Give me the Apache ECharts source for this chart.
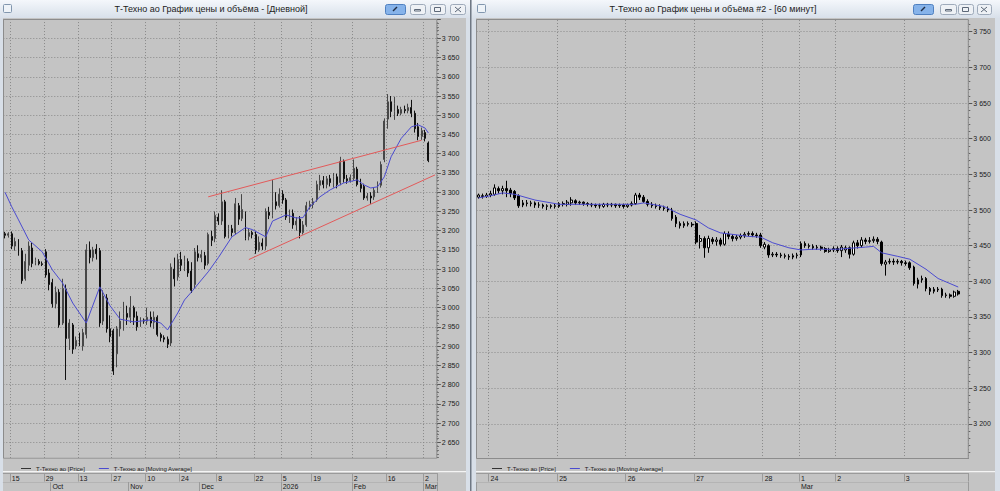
<!DOCTYPE html>
<html><head><meta charset="utf-8">
<script src="https://cdn.jsdelivr.net/npm/echarts@6/dist/echarts.min.js"></script>
<style>html,body{margin:0;padding:0;background:#d8dfe8;overflow:hidden}#c{width:1000px;height:491px}</style>
</head><body><div id="c"></div>
<script>
// ---------- DAILY PANEL ----------
const dailyDates = [
 '2025-09-11','2025-09-12',
 '2025-09-15','2025-09-16','2025-09-17','2025-09-18','2025-09-19','2025-09-22','2025-09-23','2025-09-24','2025-09-25','2025-09-26',
 '2025-09-29','2025-09-30','2025-10-01','2025-10-02','2025-10-03','2025-10-06','2025-10-07','2025-10-08','2025-10-09','2025-10-10',
 '2025-10-13','2025-10-14','2025-10-15','2025-10-16','2025-10-17','2025-10-20','2025-10-21','2025-10-22','2025-10-23','2025-10-24',
 '2025-10-27','2025-10-28','2025-10-29','2025-10-30','2025-10-31','2025-11-03','2025-11-04','2025-11-05','2025-11-06','2025-11-07',
 '2025-11-10','2025-11-11','2025-11-12','2025-11-13','2025-11-14','2025-11-17','2025-11-18','2025-11-19','2025-11-20','2025-11-21',
 '2025-11-24','2025-11-25','2025-11-26','2025-11-27','2025-11-28','2025-11-29','2025-12-01','2025-12-02','2025-12-03','2025-12-04','2025-12-05',
 '2025-12-08','2025-12-09','2025-12-10','2025-12-11','2025-12-12','2025-12-13','2025-12-15','2025-12-16','2025-12-17','2025-12-18','2025-12-19',
 '2025-12-22','2025-12-23','2025-12-24','2025-12-25','2025-12-26','2025-12-27','2025-12-29','2025-12-30',
 '2026-01-05','2026-01-06','2026-01-08','2026-01-09','2026-01-12','2026-01-13','2026-01-14','2026-01-15','2026-01-16',
 '2026-01-19','2026-01-20','2026-01-21','2026-01-22','2026-01-23','2026-01-24','2026-01-26','2026-01-27','2026-01-28','2026-01-29','2026-01-30','2026-01-31',
 '2026-02-02','2026-02-03','2026-02-04','2026-02-05','2026-02-06','2026-02-09','2026-02-10','2026-02-11','2026-02-12','2026-02-13',
 '2026-02-16','2026-02-17','2026-02-18','2026-02-19','2026-02-20','2026-02-21','2026-02-24','2026-02-25','2026-02-26','2026-02-27','2026-02-28',
 '2026-03-02','2026-03-03'
];
const dailyPadSlots = ['2026-03-04','2026-03-05'];
// [open, close, low, high]
const dailyCandles = [
 [3192,3188,3180,3197],[3188,3192,3182,3196],[3192,3160,3152,3198],[3160,3172,3148,3182],[3170,3140,3135,3178],
 [3148,3070,3062,3155],[3075,3120,3070,3140],[3110,3160,3095,3172],[3155,3115,3105,3168],[3118,3122,3110,3130],
 [3120,3114,3110,3126],[3114,3112,3108,3120],[3145,3085,3078,3152],[3090,3060,3045,3100],[3065,3010,3000,3075],
 [3010,3040,2998,3055],[3040,2955,2948,3048],[2960,3050,2955,3075],[3048,2920,2812,3060],[2920,2960,2890,2970],
 [2955,2892,2880,2960],[2900,2915,2892,2925],[2915,2910,2900,2935],[2900,2935,2888,2945],[2930,3150,2920,3165],
 [3150,3130,3115,3172],[3130,3150,3120,3158],[3152,3140,3125,3165],[3148,2960,2950,3155],[2965,3030,2955,3045],
 [3025,2945,2935,3035],[2945,2925,2910,2980],[2940,2835,2825,2945],[2880,2945,2845,2952],[2945,2965,2925,2990],
 [2965,2985,2940,3015],[2985,2975,2955,3005],[2975,3000,2960,3030],[3000,2975,2955,3005],[2978,2950,2940,2990],
 [2955,2968,2950,2975],[2968,2965,2958,2972],[2965,2975,2955,3000],[2975,2960,2950,2990],[2962,2975,2945,2990],
 [2975,2930,2925,2980],[2930,2922,2912,2935],[2922,2918,2910,2928],[2918,2905,2895,2925],[2908,3105,2900,3115],
 [3100,3075,3055,3130],[3080,3125,3070,3140],[3125,3110,3095,3145],[3108,3120,3095,3135],[3120,3090,3080,3128],
 [3095,3045,3038,3118],[3060,3145,3050,3155],[3140,3130,3120,3162],[3130,3138,3118,3150],[3135,3110,3100,3145],
 [3115,3190,3110,3195],[3185,3175,3160,3200],[3180,3240,3170,3250],[3235,3225,3215,3245],[3225,3275,3215,3305],
 [3275,3185,3180,3280],[3190,3205,3180,3215],[3205,3195,3185,3215],[3195,3270,3190,3285],[3265,3230,3215,3272],
 [3232,3255,3225,3295],[3245,3180,3175,3250],[3185,3195,3175,3205],[3195,3190,3180,3200],[3190,3150,3140,3198],
 [3150,3170,3145,3185],[3168,3160,3150,3180],[3160,3250,3150,3258],[3248,3240,3230,3262],[3240,3275,3232,3332],
 [3275,3265,3255,3300],[3265,3295,3260,3310],[3295,3280,3270,3305],[3280,3235,3228,3285],[3235,3245,3220,3255],
 [3245,3215,3205,3255],[3215,3225,3200,3235],[3230,3195,3180,3238],[3195,3215,3190,3225],[3215,3265,3210,3275],
 [3262,3268,3255,3278],[3268,3275,3258,3285],[3280,3320,3275,3330],[3318,3330,3305,3345],[3330,3320,3310,3342],
 [3320,3335,3310,3342],[3335,3325,3315,3345],[3325,3340,3312,3350],[3340,3320,3310,3348],[3325,3380,3318,3392],
 [3380,3335,3325,3385],[3335,3330,3322,3345],[3330,3338,3325,3346],[3336,3362,3330,3385],[3360,3320,3315,3366],
 [3320,3310,3300,3335],[3315,3285,3280,3322],[3285,3290,3278,3298],[3290,3285,3270,3300],[3288,3305,3280,3312],
 [3305,3320,3298,3328],[3318,3372,3312,3380],[3385,3485,3378,3492],[3490,3535,3465,3555],[3535,3510,3495,3550],
 [3510,3530,3488,3548],[3515,3505,3498,3525],[3505,3515,3500,3522],[3515,3512,3505,3525],[3512,3520,3505,3530],
 [3520,3505,3495,3540],[3505,3465,3455,3512],[3470,3445,3435,3480],[3445,3460,3436,3468],[3455,3440,3432,3462],
 [3428,3382.2,3378,3432]
];
// moving average: [category index, value]
const dailyMA = [
 [0,3300],[2,3262],[4,3228],[7,3176],[11,3145],[14,3098],[17,3064],[20,3012],[24,2960],[28,3054],[31,3005],
 [34,2970],[38,2963],[43,2968],[46,2960],[48,2942],[51,2986],[53,3020],[55,3040],[58,3072],[60,3093],[63,3130],
 [67,3184],[71,3208],[73,3203],[77,3184],[79,3225],[83,3241],[86,3233],[88,3234],[90,3262],[93,3288],[96,3306],
 [100,3324],[104,3332],[106,3319],[108,3311],[110,3314],[112,3340],[114,3392],[117,3440],[120,3470],[122,3475],
 [124,3467],[125,3454]
];
// red channel lines: [category index, price]
const trendUpper = [[60,3288],[123,3435]];
const trendLower = [[72,3125],[127,3345]];
const dailyDayTicks = ['2025-09-15','2025-09-29','2025-10-13','2025-10-27','2025-11-10','2025-11-24','2025-12-08',
 '2025-12-22','2026-01-05','2026-01-19','2026-02-02','2026-02-16','2026-03-02'];
const dailyMonthTicks = ['2025-10-01','2025-11-03','2025-12-01','2026-01-05','2026-02-02','2026-03-02'];
const dailyMonthLabels = ['Oct','Nov','Dec','2026','Feb','Mar'];

// ---------- 60-MINUTE PANEL ----------
const weekdayHours = [7,8,9,10,11,12,13,14,15,16,17,18,19,20,21,22,23];
const weekendHours = [10,11,12,13,14,15,16,17,18];
const hourlySessions = [
 ['2026-02-23',[16,17,18]],
 ['2026-02-24',weekdayHours],['2026-02-25',weekdayHours],['2026-02-26',weekdayHours],['2026-02-27',weekdayHours],
 ['2026-02-28',weekendHours],['2026-03-01',weekendHours],
 ['2026-03-02',weekdayHours],['2026-03-03',[7,8,9,10,11,12,13,14,15,16,17,18,19,20]]
];
const hourlyPadSlots = ['2026-03-03 21','2026-03-03 22'];
const hourlyCandles = [
 [3518,3521,3516,3523],[3520,3519,3516,3523],[3519,3521,3517,3524],[3521,3523,3518,3527],[3522,3531,3520,3536],
 [3530,3527,3523,3533],[3527,3530,3522,3534],[3530,3527,3518,3541],[3528,3523,3518,3531],[3526,3517,3514,3528],
 [3520,3506,3503,3522],[3507,3510,3504,3514],[3510,3509,3505,3514],[3509,3510,3505,3513],[3510,3507,3503,3512],
 [3507,3507,3503,3511],[3507,3505,3502,3509],[3505,3506,3500,3508],[3506,3505,3502,3508],[3505,3506,3502,3509],
 [3505,3509,3503,3511],[3509,3508,3505,3512],[3508,3511,3505,3514],[3510,3514,3506,3518],[3513,3510,3507,3515],
 [3510,3511,3507,3513],[3511,3509,3506,3512],[3509,3508,3505,3511],[3508,3507,3504,3510],[3507,3506,3503,3509],
 [3506,3506,3502,3509],[3505,3508,3503,3510],[3508,3507,3504,3510],[3507,3508,3504,3510],[3508,3506,3503,3509],
 [3506,3507,3503,3509],[3507,3505,3502,3509],[3505,3507,3503,3509],[3507,3509,3505,3512],[3509,3521,3507,3524],
 [3521,3518,3514,3524],[3518,3512,3510,3521],[3512,3508,3505,3515],[3508,3506,3503,3511],[3506,3505,3502,3509],
 [3505,3503,3500,3508],[3503,3502,3499,3506],[3502,3500,3497,3505],[3500,3488,3485,3503],[3490,3481,3476,3493],
 [3481,3478,3474,3484],[3478,3481,3475,3484],[3481,3480,3477,3484],[3480,3479,3476,3483],[3481,3455,3452,3484],
 [3456,3460,3446,3465],[3460,3447,3433,3463],[3447,3460,3440,3464],[3459,3456,3452,3462],[3456,3458,3450,3462],
 [3458,3452,3449,3461],[3452,3467,3450,3470],[3466,3463,3459,3470],[3463,3460,3456,3466],[3460,3462,3457,3465],
 [3462,3464,3459,3467],[3464,3466,3461,3469],[3466,3467,3463,3470],[3467,3465,3462,3470],[3465,3464,3461,3468],
 [3465,3450,3447,3468],[3448,3452,3445,3455],[3450,3437,3433,3452],[3437,3438,3434,3441],[3438,3437,3434,3441],
 [3437,3436,3433,3440],[3436,3435,3432,3439],[3435,3434,3430,3438],[3434,3436,3431,3439],[3436,3437,3432,3440],
 [3437,3453,3434,3456],[3453,3450,3447,3456],[3450,3449,3446,3453],[3449,3447,3444,3452],[3447,3448,3444,3451],
 [3448,3446,3443,3450],[3446,3442,3440,3448],[3442,3444,3440,3447],[3444,3446,3441,3449],[3446,3443,3440,3449],
 [3443,3448,3434,3451],[3444,3447,3440,3450],[3447,3438,3432,3449],[3438,3454,3436,3457],[3454,3450,3446,3458],
 [3450,3458,3447,3462],[3458,3456,3452,3461],[3456,3457,3453,3462],[3457,3459,3454,3463],[3459,3456,3452,3462],
 [3455,3425,3422,3457],[3424,3427,3408,3430],[3427,3428,3424,3432],[3428,3427,3423,3432],[3427,3428,3424,3431],
 [3428,3426,3422,3430],[3426,3425,3422,3429],[3426,3419,3416,3428],[3420,3397,3394,3422],[3396,3402,3390,3405],
 [3402,3404,3398,3408],[3404,3390,3386,3406],[3390,3386,3381,3392],[3386,3389,3383,3392],[3389,3388,3385,3392],
 [3389,3380,3377,3391],[3380,3381,3377,3384],[3381,3379,3376,3383],[3379,3385,3377,3387],[3386,3382.2,3380,3388]
];
const hourlyMA = [
 [0,3517],[3,3520],[6,3524],[9,3522],[14,3514],[20,3508],[31,3508],[39,3508],[41,3510],[46,3505],[50,3494],
 [54,3486],[57,3475],[60,3468],[67,3463],[70,3462],[73,3454],[77,3447],[80,3444],[83,3445],[89,3445],[96,3448],
 [98,3449],[100,3440],[104,3435],[107,3431],[111,3417],[114,3404],[119,3392]
];
const hourlyDayTicks = ['2026-02-24 07','2026-02-25 07','2026-02-26 07','2026-02-27 07','2026-02-28 10',
 '2026-03-01 10','2026-03-02 07','2026-03-03 07'];
const hourlyMonthTicks = ['2026-03-01 10'];
const hourlyMonthLabels = ['Mar'];

const priceName = 'Т-Техно ао [Price]';
const maName = 'Т-Техно ао [Moving Average]';
const titleDaily = 'Т-Техно ао График цены и объёма - [Дневной]';
const titleHourly = 'Т-Техно ао График цены и объёма #2 - [60 минут]';

// ---------- build ----------
const hourlyDates = [];
hourlySessions.forEach(s => s[1].forEach(h => hourlyDates.push(s[0] + ' ' + String(h).padStart(2,'0'))));
const dailyAxis = dailyDates.concat(dailyPadSlots);
const hourlyAxis = hourlyDates.concat(hourlyPadSlots);
const dSet = new Set(dailyDayTicks), hSet = new Set(hourlyDayTicks);
const FONT = '"Liberation Sans", Arial, sans-serif';
const GRAY = '#c4c4c4';
const fmtPrice = v => {
  const p = (Math.round(v*10)/10).toString().split('.');
  return p[0].replace(/\B(?=(\d{3})+(?!\d))/g,' ') + (p[1] ? ',' + p[1] : '');
};
const lastDaily = dailyCandles[dailyCandles.length-1][1];
const lastHourly = hourlyCandles[hourlyCandles.length-1][1];

function splitAxis(grid, data, set){
  return {type:'category', gridIndex:grid, data:data, boundaryGap:true,
    axisLine:{show:false}, axisTick:{show:false}, axisLabel:{show:false},
    splitLine:{show:true, interval:(i,v)=>set.has(v), lineStyle:{color:'#8a8a8a', type:[1,2], width:1}}};
}
function dayAxis(grid, data, set, offset){
  return {type:'category', gridIndex:grid, data:data, boundaryGap:true, position:'bottom', offset:offset, z:60,
    axisLine:{show:true, lineStyle:{color:'#9a9a9a', width:1}},
    axisTick:{show:true, length:8.5, interval:(i,v)=>set.has(v), lineStyle:{color:'#9a9a9a'}},
    axisLabel:{show:true, interval:(i,v)=>set.has(v), formatter:v=>String(parseInt(v.slice(8,10),10)),
      align:'left', margin:1.5, fontSize:7, color:'#1a1a1a', fontFamily:FONT},
    splitLine:{show:false}};
}
function monthAxis(grid, data, ticks, labels, offset){
  return {type:'category', gridIndex:grid, data:data, boundaryGap:true, position:'bottom', offset:offset, z:60,
    axisLine:{show:true, lineStyle:{color:'#b4b4b4', width:1}},
    axisTick:{show:true, length:9, interval:(i,v)=>ticks.indexOf(v)>=0, lineStyle:{color:'#9a9a9a'}},
    axisLabel:{show:true, interval:(i,v)=>ticks.indexOf(v)>=0, formatter:v=>labels[ticks.indexOf(v)] || '',
      align:'left', margin:1.2, fontSize:7, color:'#1a1a1a', fontFamily:FONT},
    splitLine:{show:false}};
}
function priceAxis(grid, min, max, hide){
  return {type:'value', gridIndex:grid, position:'right', min:min, max:max, interval:50, scale:true,
    axisLine:{show:false},
    axisTick:{show:true, length:4, lineStyle:{color:'#555'}},
    minorTick:{show:true, splitNumber:5, length:2, lineStyle:{color:'#666'}},
    axisLabel:{show:true, margin:5, fontSize:7, color:'#1a1a1a', fontFamily:FONT,
      formatter:v=>hide.indexOf(v)>=0 ? '' : fmtPrice(v)},
    splitLine:{show:true, showMinLine:false, lineStyle:{color:'#8a8a8a', type:[1,2], width:1}}};
}
function priceLabel(v){
  return {symbol:['none','none'], silent:true, animation:false, data:[{yAxis:v}],
    lineStyle:{opacity:0, width:0},
    label:{show:true, position:'end', distance:4, formatter:()=>fmtPrice(v), fontSize:7, fontFamily:FONT,
      color:'#111', backgroundColor:'#cdcdcd', borderColor:'#7a7a7a', borderWidth:1, padding:[1,2,0,2]}};
}
const dailyCandleStyle = {color:'#9a9a9a', color0:'#111111', borderColor:'#474747', borderColor0:'#111111', borderWidth:1};
const hourlyCandleStyle = {color:'#ffffff', color0:'#000000', borderColor:'#000000', borderColor0:'#000000', borderWidth:1};

function button(x, w, blue){
  return {type:'rect', shape:{x:x+0.5, y:4.5, width:w, height:10, r:2}, z:55, silent:true,
    style:{fill: blue ? '#86b3ea' : '#eef1f5', stroke: blue ? '#4f80c0' : '#9eaaba', lineWidth:1}};
}
const titleGrad = {type:'linear', x:0, y:0, x2:0, y2:1, colorStops:[{offset:0,color:'#f4f7fb'},{offset:1,color:'#d8e0ea'}]};

const option = {
  animation:false,
  backgroundColor:'#d8dfe8',
  title:[
    {text:titleDaily, left:211, top:4, textAlign:'center', padding:0, z:70,
      textStyle:{fontSize:9, fontWeight:'normal', color:'#222', fontFamily:FONT}},
    {text:titleHourly, left:713, top:4, textAlign:'center', padding:0, z:70,
      textStyle:{fontSize:9, fontWeight:'normal', color:'#222', fontFamily:FONT}}
  ],
  legend:[
    {left:16, top:460.5, z:70, icon:'rect', itemWidth:10, itemHeight:1, itemGap:14, selectedMode:false,
      textStyle:{fontSize:6, color:'#222', fontFamily:FONT}, itemStyle:{borderWidth:0},
      data:[{name:priceName, itemStyle:{color:'#333', borderWidth:0}}, {name:maName, itemStyle:{color:'#4b4bd0', borderWidth:0}}]},
    {left:487, top:460.5, z:70, icon:'rect', itemWidth:10, itemHeight:1, itemGap:14, selectedMode:false,
      textStyle:{fontSize:6, color:'#222', fontFamily:FONT}, itemStyle:{borderWidth:0},
      data:[{name:priceName, itemStyle:{color:'#333', borderWidth:0}}, {name:maName, itemStyle:{color:'#4b4bd0', borderWidth:0}}]}
  ],
  grid:[
    {left:3.3, top:19.06, width:433.5, height:442.48, containLabel:false, outerBoundsMode:'none'},
    {left:476.5, top:-3.96, width:491.8, height:463.6, containLabel:false, outerBoundsMode:'none'}
  ],
  xAxis:[
    splitAxis(0, dailyAxis, dSet),
    dayAxis(0, dailyAxis, dSet, 11.5),
    monthAxis(0, dailyAxis, dailyMonthTicks, dailyMonthLabels, 20.5),
    splitAxis(1, hourlyAxis, hSet),
    dayAxis(1, hourlyAxis, hSet, 13.4),
    monthAxis(1, hourlyAxis, hourlyMonthTicks, hourlyMonthLabels, 22.4)
  ],
  yAxis:[
    priceAxis(0, 2600, 3750, [2600,3750]),
    priceAxis(1, 3150, 3800, [3150,3800])
  ],
  series:[
    {type:'candlestick', name:priceName, xAxisIndex:0, yAxisIndex:0, data:dailyCandles, barWidth:1.4,
      itemStyle:dailyCandleStyle, markLine:priceLabel(lastDaily)},
    {type:'line', name:maName, xAxisIndex:0, yAxisIndex:0, data:dailyMA, showSymbol:false, symbol:'none',
      connectNulls:true, lineStyle:{color:'#4b4bd0', width:1}, itemStyle:{color:'#4b4bd0'}, z:3},
    {type:'line', name:'upper channel', xAxisIndex:0, yAxisIndex:0, data:trendUpper, showSymbol:false, symbol:'none',
      lineStyle:{color:'#e25a5a', width:1}, silent:true, z:3},
    {type:'line', name:'lower channel', xAxisIndex:0, yAxisIndex:0, data:trendLower, showSymbol:false, symbol:'none',
      lineStyle:{color:'#e25a5a', width:1}, silent:true, z:3},
    {type:'candlestick', name:priceName, xAxisIndex:3, yAxisIndex:1, data:hourlyCandles, barWidth:2.2,
      itemStyle:hourlyCandleStyle, markLine:priceLabel(lastHourly)},
    {type:'line', name:maName, xAxisIndex:3, yAxisIndex:1, data:hourlyMA, showSymbol:false, symbol:'none',
      connectNulls:true, lineStyle:{color:'#4b4bd0', width:1}, itemStyle:{color:'#4b4bd0'}, z:3}
  ],
  graphic:[
    {type:'rect', shape:{x:3, y:18, width:463, height:473}, style:{fill:GRAY}, z:-90, silent:true},
    {type:'rect', shape:{x:476, y:18, width:519, height:473}, style:{fill:GRAY}, z:-90, silent:true},
    {type:'rect', shape:{x:470, y:0, width:1.5, height:491}, style:{fill:'#6f7884'}, z:56, silent:true},
    {type:'rect', shape:{x:3, y:458.8, width:463, height:13}, style:{fill:GRAY}, z:50, silent:true},
    {type:'rect', shape:{x:476, y:459.1, width:519, height:12.6}, style:{fill:GRAY}, z:50, silent:true},
    {type:'rect', shape:{x:3, y:471, width:463, height:1.2}, style:{fill:'#f4f4f4'}, z:52, silent:true},
    {type:'rect', shape:{x:476, y:471, width:519, height:1.2}, style:{fill:'#f4f4f4'}, z:52, silent:true},
    {type:'rect', shape:{x:3.5, y:19.5, width:433.3, height:438.8}, style:{fill:'none', stroke:'#8c8c8c', lineWidth:1}, z:45, silent:true},
    {type:'rect', shape:{x:476.5, y:19.5, width:491.8, height:439}, style:{fill:'none', stroke:'#8c8c8c', lineWidth:1}, z:45, silent:true},
    {type:'rect', shape:{x:0, y:0, width:470, height:18}, style:{fill:titleGrad}, z:50, silent:true},
    {type:'rect', shape:{x:472, y:0, width:528, height:18}, style:{fill:titleGrad}, z:50, silent:true},
    {type:'rect', shape:{x:3.5, y:4.5, width:8, height:8, r:1}, style:{fill:'#eef3f8', stroke:'#8196ae', lineWidth:1}, z:55, silent:true},
    {type:'rect', shape:{x:477.5, y:4.5, width:8, height:8, r:1}, style:{fill:'#eef3f8', stroke:'#8196ae', lineWidth:1}, z:55, silent:true},
    button(385, 20, true), button(410, 15), button(430, 15), button(450, 15),
    button(913, 20, true), button(940, 16), button(958, 15), button(977, 14),
    {type:'line', shape:{x1:393, y1:11, x2:397, y2:7}, style:{stroke:'#1f2d44', lineWidth:1.5}, z:57, silent:true},
    {type:'line', shape:{x1:921, y1:11, x2:925, y2:7}, style:{stroke:'#1f2d44', lineWidth:1.5}, z:57, silent:true},
    {type:'rect', shape:{x:414.5, y:9.5, width:6, height:1.5}, style:{fill:'none', stroke:'#5d6878', lineWidth:1}, z:57, silent:true},
    {type:'rect', shape:{x:434.5, y:7.5, width:6, height:4}, style:{fill:'none', stroke:'#5d6878', lineWidth:1}, z:57, silent:true},
    {type:'line', shape:{x1:455, y1:7, x2:461, y2:12}, style:{stroke:'#5d6878', lineWidth:1}, z:57, silent:true},
    {type:'line', shape:{x1:461, y1:7, x2:455, y2:12}, style:{stroke:'#5d6878', lineWidth:1}, z:57, silent:true},
    {type:'rect', shape:{x:945.5, y:9.5, width:6, height:1.5}, style:{fill:'none', stroke:'#5d6878', lineWidth:1}, z:57, silent:true},
    {type:'rect', shape:{x:962.5, y:7.5, width:6, height:4}, style:{fill:'none', stroke:'#5d6878', lineWidth:1}, z:57, silent:true},
    {type:'line', shape:{x1:981, y1:7, x2:987, y2:12}, style:{stroke:'#5d6878', lineWidth:1}, z:57, silent:true},
    {type:'line', shape:{x1:987, y1:7, x2:981, y2:12}, style:{stroke:'#5d6878', lineWidth:1}, z:57, silent:true}
  ]
};
const chart = echarts.init(document.getElementById('c'), null, {renderer:'svg', width:1000, height:491});
chart.setOption(option);
</script>
</body></html>
